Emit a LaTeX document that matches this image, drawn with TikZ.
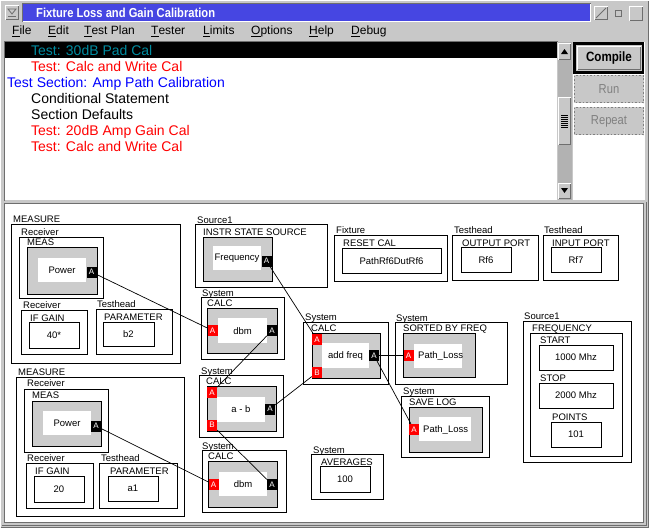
\documentclass[tikz,border=0pt]{standalone}
\usepackage{fontspec}
\setmainfont{Liberation Sans}
\newfontfamily\narrowfont[FakeStretch=0.86]{Liberation Sans}
\definecolor{wingrey}{RGB}{200,200,200}
\definecolor{blockgrey}{RGB}{204,204,204}
\definecolor{titleblue}{RGB}{70,70,226}
\definecolor{portred}{RGB}{255,0,0}
\definecolor{teal}{RGB}{0,140,160}
\definecolor{darkline}{RGB}{110,110,110}
\definecolor{trackgrey}{RGB}{178,178,178}
\newcommand\dfont{\fontsize{9.5}{11}\selectfont}
\newcommand\pfont{\fontsize{8}{9}\selectfont}
\newcommand\mfont{\fontsize{12}{14}\selectfont}
\newcommand\lfont{\fontsize{14}{16}\selectfont}
\tikzset{
  frame/.style={draw=black, line width=1pt},
  greyblk/.style={draw=black, line width=1pt, fill=blockgrey},
  whitebox/.style={fill=white},
  lbl/.style={anchor=base west, inner sep=0pt, font=\dfont},
  val/.style={inner sep=0pt, font=\dfont},
  menuitem/.style={anchor=base west, inner sep=0pt, font=\mfont},
  listitem/.style={anchor=base west, inner sep=0pt, font=\lfont},
  inport/.style={fill=portred, text=white, font=\pfont, minimum width=10pt, minimum height=11pt, inner sep=0pt},
  outport/.style={fill=black, text=white, font=\pfont, minimum width=10pt, minimum height=11pt, inner sep=0pt},
  wire/.style={draw=black, line width=0.7pt},
  bevel/.style={line width=1pt}
}
\begin{document}
\begin{tikzpicture}[x=1pt,y=-1pt]
\useasboundingbox (0,0) rectangle (649,528);
% window background
\fill[wingrey] (0,0) rectangle (649,528);
\draw[white,bevel] (0.5,527.5) -- (0.5,0.5) -- (648.5,0.5);
\draw[darkline,bevel] (0.5,527.5) -- (648.5,527.5) -- (648.5,0.5);
% title bar
\fill[titleblue] (23,4) rectangle (590,21);
\draw[darkline,bevel] (22.5,21.5) -- (22.5,3.5) -- (590.5,3.5);
\draw[white,bevel] (22.5,21.5) -- (590.5,21.5) -- (590.5,3.5);
\node[anchor=base west, inner sep=0pt, text=white, font=\narrowfont\fontsize{13}{15}\selectfont\bfseries] (title) at (36,17) {Fixture Loss and Gain Calibration};
% window menu icon
\draw[white,bevel] (5.5,19.5) -- (5.5,5.5) -- (18.5,5.5);
\draw[darkline,bevel] (5.5,19.5) -- (18.5,19.5) -- (18.5,5.5);
\draw[darkline, line width=0.8pt] (8,9) -- (16,9) -- (12,14) -- cycle;
\draw[darkline, line width=0.8pt] (8,16) -- (16,16);
% right icons
\draw[white,bevel] (594.5,19.5) -- (594.5,6.5) -- (607.5,6.5);
\draw[darkline,bevel] (594.5,19.5) -- (607.5,19.5) -- (607.5,6.5);
\draw[darkline, line width=0.8pt] (596,18) -- (606,8);
\draw[darkline, line width=0.8pt] (615.5,10.5) rectangle (621.5,16.5);
\draw[white,bevel] (629.5,20.5) -- (629.5,6.5) -- (642.5,6.5);
\draw[darkline,bevel] (629.5,20.5) -- (642.5,20.5) -- (642.5,6.5);
% menu
\node[menuitem] (mfile) at (12,34.5) {\underline{F}ile};
\node[menuitem] (medit) at (48,34.5) {\underline{E}dit};
\node[menuitem] (mplan) at (84,34.5) {\underline{T}est Plan};
\node[menuitem] (mtester) at (151,34.5) {\underline{T}ester};
\node[menuitem] (mlimits) at (203,34.5) {\underline{L}imits};
\node[menuitem] (moptions) at (251,34.5) {\underline{O}ptions};
\node[menuitem] (mhelp) at (309,34.5) {\underline{H}elp};
\node[menuitem] (mdebug) at (351,34.5) {\underline{D}ebug};
% list area
\fill[white] (5,42) rectangle (557,200);
\draw[darkline,bevel] (4.5,200.5) -- (4.5,41.5) -- (557.5,41.5);
\fill[black] (5,42) rectangle (557,58);
\node[listitem, text=teal] (row1) at (31,55) {Test: 30dB Pad Cal};
\node[listitem, text=portred] (row2) at (31,71) {Test: Calc and Write Cal};
\node[listitem, text=blue] (row3) at (7,87) {Test Section: Amp Path Calibration};
\node[listitem, text=black] (row4) at (31,103) {Conditional Statement};
\node[listitem, text=black] (row5) at (31,119) {Section Defaults};
\node[listitem, text=portred] (row6) at (31,135) {Test: 20dB Amp Gain Cal};
\node[listitem, text=portred] (row7) at (31,151) {Test: Calc and Write Cal};
% scrollbar
\fill[trackgrey] (558,42) rectangle (572,200);
\fill[wingrey] (558,43) rectangle (571,60);
\draw[white,bevel] (558.5,59.5) -- (558.5,43.5) -- (570.5,43.5);
\draw[darkline,bevel] (558.5,59.5) -- (570.5,59.5) -- (570.5,43.5);
\fill[black] (561,54) -- (568,54) -- (564.5,49) -- cycle;
\fill[wingrey] (558,183) rectangle (571,199);
\draw[white,bevel] (558.5,198.5) -- (558.5,183.5) -- (570.5,183.5);
\draw[darkline,bevel] (558.5,198.5) -- (570.5,198.5) -- (570.5,183.5);
\fill[black] (561,188) -- (568,188) -- (564.5,193) -- cycle;
\fill[wingrey] (558,97) rectangle (571,145);
\draw[white,bevel] (558.5,144.5) -- (558.5,97.5) -- (570.5,97.5);
\draw[darkline,bevel] (558.5,144.5) -- (570.5,144.5) -- (570.5,97.5);
\foreach \yy in {115,117,119,121,123,125,127} {\draw[black, line width=0.6pt] (561,\yy) -- (568,\yy);}
% right button panel
\fill[white] (573,42) rectangle (645,200);
\fill[wingrey] (574,43) rectangle (643,72);
\draw[black, line width=2.5pt] (574.5,43.5) rectangle (643,72.5);
\draw[white,bevel] (577.5,69.5) -- (577.5,46.5) -- (640.5,46.5);
\draw[darkline,bevel] (577.5,69.5) -- (640.5,69.5) -- (640.5,46.5);
\node[inner sep=0pt, font=\narrowfont\fontsize{13.5}{15}\selectfont\bfseries] (compile) at (609,58) {Compile};
\fill[wingrey] (574,75) rectangle (644,103);
\draw[gray, line width=1.5pt, dotted] (574.5,75.5) rectangle (643.5,102.5);
\node[inner sep=0pt, text=gray, font=\narrowfont\fontsize{13}{15}\selectfont] (run) at (609,89) {Run};
\fill[wingrey] (574,107) rectangle (644,135);
\draw[gray, line width=1.5pt, dotted] (574.5,107.5) rectangle (643.5,134.5);
\node[inner sep=0pt, text=gray, font=\narrowfont\fontsize{13}{15}\selectfont] (repeat) at (609,121) {Repeat};
% separator and diagram area
\fill[white] (5,204) rectangle (643,522);
\draw[darkline,bevel] (4.5,522.5) -- (4.5,203.5) -- (643.5,203.5) -- (643.5,522.5) -- cycle;
\draw[darkline,bevel] (2,525.5) -- (646.5,525.5) -- (646.5,202);

% ===== MEASURE 1 =====
\node[lbl] (m1lbl) at (13,222) {MEASURE};
\draw[frame] (11,224) rectangle (180,363);
\node[lbl] (m1rcv) at (21,235) {Receiver};
\draw[frame] (19,237) rectangle (103,298);
\node[lbl] (m1meas) at (27,245) {MEAS};
\draw[greyblk] (27,247) rectangle (97,294);
\fill[whitebox] (38,258) rectangle (86,282);
\node[val] (m1pow) at (62,270) {Power};
\node[outport] (m1out) at (91.5,272) {A};
\node[lbl] (m1rcv2) at (23,308) {Receiver};
\draw[frame] (21,310) rectangle (87,354);
\node[lbl] (m1ifg) at (30,321) {IF GAIN};
\draw[frame] (29,322) rectangle (79,348);
\node[val] (m1ifv) at (54,335) {40*};
\node[lbl] (m1th) at (97,307) {Testhead};
\draw[frame] (96,309) rectangle (172,354);
\node[lbl] (m1par) at (104,320) {PARAMETER};
\draw[frame] (103,322) rectangle (154,346);
\node[val] (m1pv) at (128.5,334) {b2};

% ===== MEASURE 2 =====
\node[lbl] (m2lbl) at (18,375) {MEASURE};
\draw[frame] (16,377) rectangle (184,516);
\node[lbl] (m2rcv) at (27,386) {Receiver};
\draw[frame] (24,389) rectangle (108,452);
\node[lbl] (m2meas) at (32,398) {MEAS};
\draw[greyblk] (32,401) rectangle (101,446);
\fill[whitebox] (43,411) rectangle (91,435);
\node[val] (m2pow) at (67,423) {Power};
\node[outport] (m2out) at (96,426) {A};
\node[lbl] (m2rcv2) at (27,461) {Receiver};
\draw[frame] (26,463) rectangle (93,508);
\node[lbl] (m2ifg) at (35,474) {IF GAIN};
\draw[frame] (34,476) rectangle (84,502);
\node[val] (m2ifv) at (59,489) {20};
\node[lbl] (m2th) at (101,461) {Testhead};
\draw[frame] (99,463) rectangle (177,508);
\node[lbl] (m2par) at (110,474) {PARAMETER};
\draw[frame] (108,476) rectangle (158,501);
\node[val] (m2pv) at (133,488) {a1};

% ===== Source1 INSTR STATE SOURCE =====
\node[lbl] (s1lbl) at (197,223) {Source1};
\draw[frame] (195,224) rectangle (327,287);
\node[lbl] (s1name) at (203,235) {INSTR STATE SOURCE};
\draw[greyblk] (203,237) rectangle (272,281);
\fill[whitebox] (213,246) rectangle (261,270);
\node[val] (s1val) at (237,258) {Frequency};
\node[outport] (s1out) at (266.5,261) {A};

% ===== Fixture RESET CAL =====
\node[lbl] (fxlbl) at (336,233) {Fixture};
\draw[frame] (334,235) rectangle (447,281);
\node[lbl] (fxname) at (343,246) {RESET CAL};
\draw[frame] (342,248) rectangle (441,273);
\node[val] (fxval) at (391.5,261) {PathRf6DutRf6};

% ===== Testhead OUTPUT PORT =====
\node[lbl] (oplbl) at (454,233) {Testhead};
\draw[frame] (452,235) rectangle (538,280);
\node[lbl] (opname) at (462,246) {OUTPUT PORT};
\draw[frame] (461,247) rectangle (511,272);
\node[val] (opval) at (486,260) {Rf6};

% ===== Testhead INPUT PORT =====
\node[lbl] (iplbl) at (544,233) {Testhead};
\draw[frame] (543,235) rectangle (618,280);
\node[lbl] (ipname) at (552,246) {INPUT PORT};
\draw[frame] (551,247) rectangle (601,272);
\node[val] (ipval) at (576,260) {Rf7};

% ===== CALC dbm 1 =====
\node[lbl] (c1lbl) at (202,296) {System};
\draw[frame] (201,297) rectangle (284,359);
\node[lbl] (c1name) at (207,306) {CALC};
\draw[greyblk] (207,308) rectangle (277,353);
\fill[whitebox] (218,318) rectangle (267,343);
\node[val] (c1val) at (242.5,331) {dbm};
\node[inport] (c1ina) at (212.5,330.5) {A};
\node[outport] (c1out) at (272,330.5) {A};

% ===== CALC a - b =====
\node[lbl] (c2lbl) at (201,374) {System};
\draw[frame] (199,375) rectangle (283,437);
\node[lbl] (c2name) at (206,384) {CALC};
\draw[greyblk] (207,386) rectangle (276,431);
\fill[whitebox] (217,397) rectangle (265,422);
\node[val] (c2val) at (241,409.5) {a - b};
\node[inport] (c2ina) at (212,392.5) {A};
\node[inport] (c2inb) at (212,425) {B};
\node[outport] (c2out) at (270,409) {A};

% ===== CALC dbm 2 =====
\node[lbl] (c3lbl) at (202,449) {System};
\draw[frame] (202,450) rectangle (286,512);
\node[lbl] (c3name) at (208,459) {CALC};
\draw[greyblk] (208,461) rectangle (277,507);
\fill[whitebox] (219,472) rectangle (267,496);
\node[val] (c3val) at (243,484) {dbm};
\node[inport] (c3ina) at (213.5,484.5) {A};
\node[outport] (c3out) at (272,484.5) {A};

% ===== AVERAGES =====
\node[lbl] (avlbl) at (313,453) {System};
\draw[frame] (311,454) rectangle (383,499);
\node[lbl] (avname) at (321,465) {AVERAGES};
\draw[frame] (320,466) rectangle (370,492);
\node[val] (avval) at (345,479) {100};

% ===== CALC add freq =====
\node[lbl] (c4lbl) at (305,320) {System};
\draw[frame] (303,322) rectangle (388,384);
\node[lbl] (c4name) at (311,331) {CALC};
\draw[greyblk] (312,333) rectangle (380,378);
\fill[whitebox] (322,343) rectangle (369,368);
\node[val] (c4val) at (345.5,356) {add freq};
\node[inport] (c4ina) at (317,339.5) {A};
\node[inport] (c4inb) at (317,372.5) {B};
\node[outport] (c4out) at (374,355.5) {A};

% ===== SORTED BY FREQ =====
\node[lbl] (sflbl) at (396,321) {System};
\draw[frame] (395,322) rectangle (507,384);
\node[lbl] (sfname) at (403,331) {SORTED BY FREQ};
\draw[greyblk] (403,333) rectangle (475,377);
\fill[whitebox] (414,344) rectangle (462,368);
\node[val, anchor=west] (sfval) at (418,356) {Path\_Loss};
\node[inport] (sfin) at (408.5,355.5) {A};

% ===== SAVE LOG =====
\node[lbl] (sllbl) at (403,394) {System};
\draw[frame] (401,396) rectangle (489,457);
\node[lbl] (slname) at (409,405) {SAVE LOG};
\draw[greyblk] (409,407) rectangle (482,452);
\fill[whitebox] (419,417) rectangle (471,441);
\node[val, anchor=west] (slval) at (423,429.5) {Path\_Loss};
\node[inport] (slin) at (414,429.5) {A};

% ===== Source1 FREQUENCY =====
\node[lbl] (fqlbl) at (524,319) {Source1};
\draw[frame] (523,321) rectangle (631,462);
\node[lbl] (fqname) at (532,331) {FREQUENCY};
\draw[frame] (530,333) rectangle (622,456);
\node[lbl] (fqstart) at (540,343) {START};
\draw[frame] (539,345) rectangle (613,370);
\node[val] (fqsv) at (576,357.5) {1000 Mhz};
\node[lbl] (fqstop) at (540,381) {STOP};
\draw[frame] (539,383) rectangle (613,408);
\node[val] (fqpv) at (576,395.5) {2000 Mhz};
\node[lbl] (fqpts) at (552,420) {POINTS};
\draw[frame] (551,422) rectangle (601,447);
\node[val] (fqnv) at (576,434.5) {101};

% ===== connectors =====
\draw[wire] (m1out) -- (c1ina);
\draw[wire] (m2out) -- (c3ina);
\draw[wire] (s1out) -- (c4ina);
\draw[wire] (c1out) -- (c2ina);
\draw[wire] (c3out) -- (c2inb);
\draw[wire] (c2out) -- (c4inb);
\draw[wire] (c4out) -- (sfin);
\draw[wire] (c4out) -- (slin);
\end{tikzpicture}
\end{document}
